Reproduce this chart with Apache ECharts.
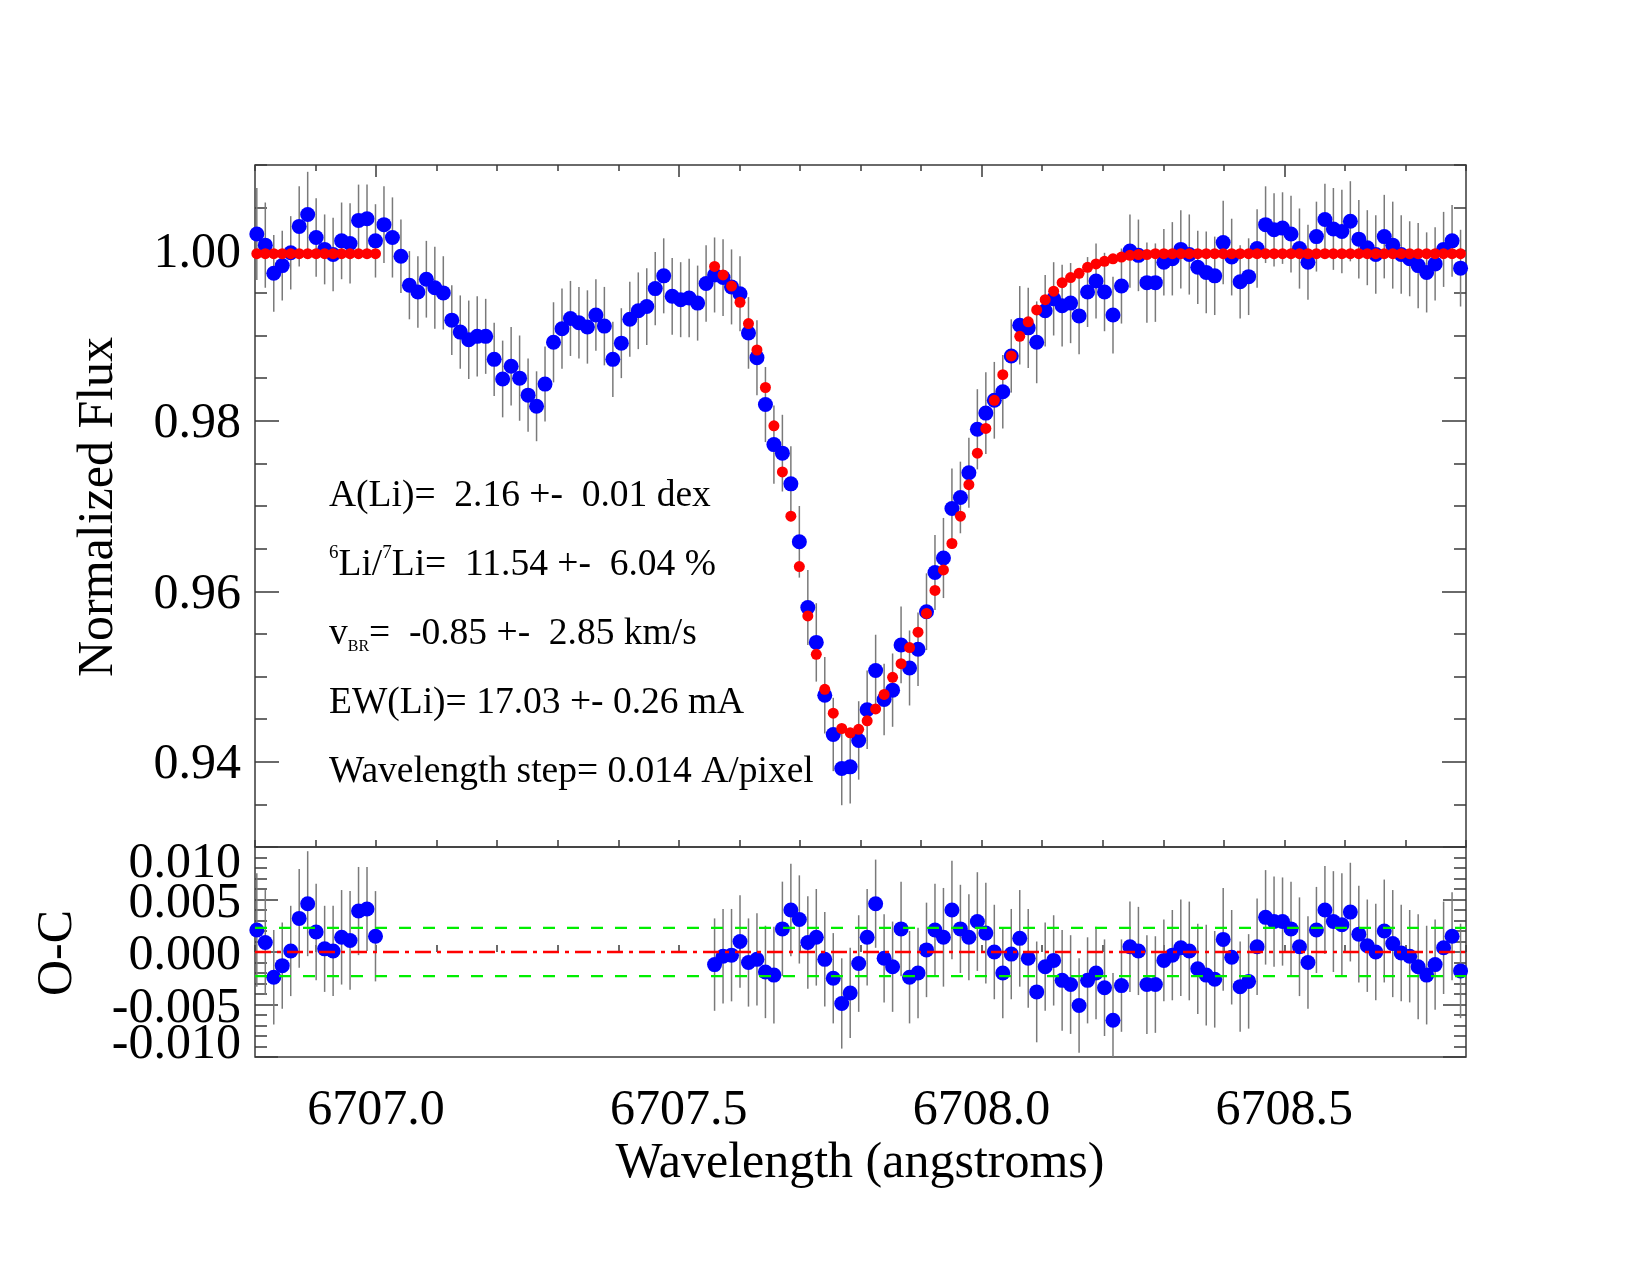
<!DOCTYPE html>
<html>
<head>
<meta charset="utf-8">
<script src="https://cdn.jsdelivr.net/npm/echarts@6/dist/echarts.min.js"></script>
<style>
  html, body { margin: 0; padding: 0; background: #fff; }
  #chart { width: 1650px; height: 1275px; }
</style>
</head>
<body>
<div id="chart"></div>
<script>
// wavelength grid of the spectrum ("Wavelength step= 0.014 A/pixel")
const WAVE_START = 6706.803
const WAVE_STEP = 0.014

// observed normalized flux, one value per pixel
const flux = [
  1.0019, 1.0006, 0.9973, 0.9982, 0.9997, 1.0028, 1.0042, 1.0015, 1.0001, 0.9995,
  1.0011, 1.0008, 1.0035, 1.0037, 1.0011, 1.0030, 1.0015, 0.9993, 0.9959, 0.9951,
  0.9966, 0.9956, 0.9950, 0.9918, 0.9904, 0.9895, 0.9899, 0.9899, 0.9872, 0.9849,
  0.9864, 0.9850, 0.9830, 0.9817, 0.9843, 0.9892, 0.9908, 0.9920, 0.9915, 0.9910,
  0.9924, 0.9911, 0.9872, 0.9891, 0.9919, 0.9929, 0.9934, 0.9955, 0.9970, 0.9946,
  0.9942, 0.9944, 0.9938, 0.9961, 0.9971, 0.9968, 0.9957, 0.9949, 0.9903, 0.9874,
  0.9819, 0.9772, 0.9762, 0.9726, 0.9658, 0.9581, 0.9540, 0.9478, 0.9432, 0.9392,
  0.9394, 0.9425, 0.9461, 0.9507, 0.9473, 0.9484, 0.9537, 0.9510, 0.9532, 0.9576,
  0.9622, 0.9639, 0.9697, 0.9710, 0.9739, 0.9790, 0.9809, 0.9824, 0.9834, 0.9876,
  0.9912, 0.9909, 0.9892, 0.9929, 0.9943, 0.9935, 0.9938, 0.9923, 0.9951, 0.9964,
  0.9951, 0.9924, 0.9958, 0.9999, 0.9994, 0.9962, 0.9962, 0.9986, 0.9990, 1.0001,
  0.9995, 0.9980, 0.9974, 0.9970, 1.0009, 0.9992, 0.9963, 0.9969, 1.0002, 1.0030,
  1.0024, 1.0026, 1.0019, 1.0002, 0.9986, 1.0016, 1.0036, 1.0025, 1.0022, 1.0034,
  1.0013, 1.0003, 0.9995, 1.0016, 1.0006, 0.9995, 0.9990, 0.9982, 0.9974, 0.9984,
  1.0001, 1.0011, 0.9979,
]

// 1-sigma flux errors
const fluxErr = [
  0.0054, 0.0050, 0.0045, 0.0041, 0.0043, 0.0047, 0.0050, 0.0046, 0.0041, 0.0043,
  0.0045, 0.0047, 0.0042, 0.0040, 0.0043, 0.0045, 0.0047, 0.0043, 0.0040, 0.0042,
  0.0045, 0.0048, 0.0043, 0.0041, 0.0043, 0.0046, 0.0047, 0.0044, 0.0043, 0.0045,
  0.0046, 0.0050, 0.0043, 0.0041, 0.0044, 0.0047, 0.0047, 0.0044, 0.0042, 0.0043,
  0.0042, 0.0046, 0.0044, 0.0041, 0.0044, 0.0045, 0.0045, 0.0043, 0.0044, 0.0045,
  0.0044, 0.0046, 0.0044, 0.0045, 0.0044, 0.0045, 0.0044, 0.0044, 0.0042, 0.0044,
  0.0044, 0.0046, 0.0045, 0.0044, 0.0042, 0.0044, 0.0046, 0.0045, 0.0043, 0.0043,
  0.0043, 0.0046, 0.0046, 0.0042, 0.0042, 0.0043, 0.0045, 0.0044, 0.0043, 0.0045,
  0.0044, 0.0047, 0.0047, 0.0042, 0.0041, 0.0047, 0.0048, 0.0045, 0.0043, 0.0043,
  0.0046, 0.0047, 0.0048, 0.0042, 0.0043, 0.0048, 0.0047, 0.0045, 0.0041, 0.0044,
  0.0046, 0.0045, 0.0044, 0.0043, 0.0042, 0.0047, 0.0046, 0.0039, 0.0043, 0.0046,
  0.0047, 0.0043, 0.0048, 0.0046, 0.0049, 0.0045, 0.0043, 0.0045, 0.0046, 0.0045,
  0.0043, 0.0042, 0.0045, 0.0047, 0.0044, 0.0041, 0.0042, 0.0048, 0.0049, 0.0047,
  0.0046, 0.0044, 0.0046, 0.0049, 0.0051, 0.0046, 0.0044, 0.0050, 0.0047, 0.0043,
  0.0044, 0.0042, 0.0045,
]

// fitted synthetic spectrum, only on the two fit windows
const FIT_LEFT_START = 0
const modelLeft = [
  0.9996, 0.9996, 0.9996, 0.9996, 0.9996, 0.9996, 0.9996, 0.9996, 0.9996, 0.9996,
  0.9996, 0.9996, 0.9996, 0.9996, 0.9996,
]
const FIT_RIGHT_START = 54
const modelRight = [
  0.9981, 0.9971, 0.9958, 0.9939, 0.9914, 0.9883, 0.9839, 0.9794, 0.9740, 0.9688,
  0.9629, 0.9571, 0.9526, 0.9485, 0.9457, 0.9439, 0.9434, 0.9438, 0.9448, 0.9462,
  0.9479, 0.9499, 0.9515, 0.9534, 0.9552, 0.9574, 0.9601, 0.9625, 0.9656, 0.9688,
  0.9725, 0.9762, 0.9791, 0.9824, 0.9854, 0.9876, 0.9899, 0.9916, 0.9930, 0.9942,
  0.9952, 0.9962, 0.9968, 0.9973, 0.9980, 0.9984, 0.9987, 0.9990, 0.9992, 0.9994,
  0.9995, 0.9995, 0.9996, 0.9996, 0.9996, 0.9996, 0.9996, 0.9996, 0.9996, 0.9996,
  0.9996, 0.9996, 0.9996, 0.9996, 0.9996, 0.9996, 0.9996, 0.9996, 0.9996, 0.9996,
  0.9996, 0.9996, 0.9996, 0.9996, 0.9996, 0.9996, 0.9996, 0.9996, 0.9996, 0.9996,
  0.9996, 0.9996, 0.9996, 0.9996, 0.9996, 0.9996, 0.9996, 0.9996, 0.9996,
]

// observed minus computed on the same fit windows
const residLeft = [
  0.0021, 0.0009, -0.0024, -0.0013, 0.0001, 0.0032, 0.0046, 0.0019, 0.0003, 0.0001,
  0.0014, 0.0011, 0.0039, 0.0041, 0.0015,
]
const residRight = [
  -0.0012, -0.0004, -0.0003, 0.0010, -0.0010, -0.0007, -0.0019, -0.0022, 0.0022, 0.0040,
  0.0031, 0.0009, 0.0014, -0.0007, -0.0025, -0.0049, -0.0039, -0.0011, 0.0014, 0.0046,
  -0.0006, -0.0014, 0.0022, -0.0024, -0.0020, 0.0002, 0.0021, 0.0014, 0.0040, 0.0022,
  0.0014, 0.0029, 0.0018, 0.0000, -0.0020, -0.0002, 0.0013, -0.0006, -0.0038, -0.0014,
  -0.0008, -0.0027, -0.0031, -0.0051, -0.0027, -0.0020, -0.0034, -0.0065, -0.0032, 0.0005,
  0.0001, -0.0031, -0.0031, -0.0008, -0.0003, 0.0004, 0.0001, -0.0016, -0.0022, -0.0026,
  0.0012, -0.0005, -0.0033, -0.0028, 0.0005, 0.0033, 0.0029, 0.0029, 0.0022, 0.0005,
  -0.0010, 0.0021, 0.0040, 0.0029, 0.0026, 0.0038, 0.0017, 0.0006, 0.0000, 0.0020,
  0.0008, -0.0001, -0.0004, -0.0014, -0.0022, -0.0012, 0.0004, 0.0015, -0.0018,
]
const OC_SIGMA = 0.0023

const X_MIN = 6706.8
const X_MAX = 6708.8
const X_LABELS = [6707.0, 6707.5, 6708.0, 6708.5]
const FLUX_LABELS = [0.94, 0.96, 0.98, 1.00]
const OC_INNER_LABELS = [-0.005, 0.000, 0.005]

const annotations = [
  '{t|A(Li)=  2.16 +-  0.01 dex}',
  '{s|6}{t|Li/}{s|7}{t|Li=  11.54 +-  6.04 %}',
  '{t|v}{b|BR}{t|=  -0.85 +-  2.85 km/s}',
  '{t|EW(Li)= 17.03 +- 0.26 mA}',
  '{t|Wavelength step= 0.014 A/pixel}',
]

const FONT = '"Liberation Serif", "Times New Roman", serif'
const AXIS_COLOR = '#3a3a3a'
const BAR_COLOR = '#7a7a7a'

const wave = i => +(WAVE_START + i * WAVE_STEP).toFixed(4)

const fluxPts = flux.map((f, i) => [wave(i), f, fluxErr[i]])
const modelPts = [
  ...modelLeft.map((m, k) => [wave(FIT_LEFT_START + k), m]),
  ...modelRight.map((m, k) => [wave(FIT_RIGHT_START + k), m]),
]
const residPts = [
  ...residLeft.map((r, k) => [wave(FIT_LEFT_START + k), r, fluxErr[FIT_LEFT_START + k]]),
  ...residRight.map((r, k) => [wave(FIT_RIGHT_START + k), r, fluxErr[FIT_RIGHT_START + k]]),
]

function errorBar(params, api) {
  const x = api.value(0), y = api.value(1), e = api.value(2)
  const hi = api.coord([x, y + e])
  const lo = api.coord([x, y - e])
  const cs = params.coordSys
  return {
    type: 'line',
    shape: { x1: hi[0], y1: Math.max(hi[1], cs.y), x2: lo[0], y2: Math.min(lo[1], cs.y + cs.height) },
    style: { stroke: BAR_COLOR, lineWidth: 1.5 },
    silent: true,
  }
}

const tick = (length, extra) => Object.assign({
  show: true, inside: true, length, lineStyle: { color: AXIS_COLOR, width: 1.5 },
}, extra)

function xAx(gridIndex, position, axisTick, axisLabel) {
  return {
    type: 'value', gridIndex, position, min: X_MIN, max: X_MAX, interval: 0.1,
    axisLine: { show: false }, splitLine: { show: false },
    axisTick, axisLabel: axisLabel ?? { show: false },
  }
}

function yAx(gridIndex, position, min, max, interval, axisTick, axisLabel) {
  return {
    type: 'value', gridIndex, position, min, max, interval,
    axisLine: { show: false }, splitLine: { show: false },
    axisTick, axisLabel: axisLabel ?? { show: false },
  }
}

const labelStyle = { color: '#000', fontFamily: FONT, fontSize: 50 }

const chart = echarts.init(document.getElementById('chart'))
chart.setOption({
  backgroundColor: '#fff',
  animation: false,
  grid: [
    { left: 255, top: 165, width: 1211, height: 682, show: true, borderColor: AXIS_COLOR, borderWidth: 1.5 },
    { left: 255, top: 847, width: 1211, height: 210, show: true, borderColor: AXIS_COLOR, borderWidth: 1.5 },
  ],
  xAxis: [
    xAx(0, 'bottom', tick(7)),
    xAx(0, 'top', tick(6)),
    xAx(0, 'top', tick(12, { customValues: X_LABELS })),
    xAx(1, 'bottom', tick(7), Object.assign({
      show: true, margin: 29, customValues: X_LABELS, formatter: v => v.toFixed(1),
    }, labelStyle)),
  ],
  yAxis: [
    // top panel: labels + minor ticks, then major ticks, mirrored on the right
    yAx(0, 'left', 0.93, 1.01, 0.005, tick(12), Object.assign({
      show: true, margin: 14, verticalAlign: 'top', lineHeight: 7,
      customValues: FLUX_LABELS, formatter: v => v.toFixed(2),
    }, labelStyle)),
    yAx(0, 'left', 0.93, 1.01, 0.005, tick(24, { customValues: FLUX_LABELS })),
    yAx(0, 'right', 0.93, 1.01, 0.005, tick(12)),
    yAx(0, 'right', 0.93, 1.01, 0.005, tick(24, { customValues: FLUX_LABELS })),
    // residual panel: inner labels + major ticks
    yAx(1, 'left', -0.01, 0.01, 0.005, tick(23), Object.assign({
      show: true, margin: 14, verticalAlign: 'top', lineHeight: 8,
      customValues: OC_INNER_LABELS,
      formatter: v => (Math.abs(v) < 1e-9 ? 0 : v).toFixed(3),
    }, labelStyle)),
    yAx(1, 'left', -0.01, 0.01, 0.001, tick(12)),
    yAx(1, 'right', -0.01, 0.01, 0.005, tick(23)),
    yAx(1, 'right', -0.01, 0.01, 0.001, tick(12)),
    // residual panel: edge labels, kept inside the frame
    yAx(1, 'left', -0.01, 0.01, 0.02, { show: false }, Object.assign({
      show: true, margin: 14, showMinLabel: true, showMaxLabel: true,
      verticalAlignMinLabel: 'bottom', verticalAlignMaxLabel: 'top',
      formatter: v => (v > 0 ? '{hi|' : '{lo|') + v.toFixed(3) + '}',
      rich: {
        hi: { fontFamily: FONT, fontSize: 50, lineHeight: 34, color: '#000' },
        lo: { fontFamily: FONT, fontSize: 50, lineHeight: 24, color: '#000' },
      },
    }, labelStyle)),
  ],
  series: [
    { type: 'custom', xAxisIndex: 0, yAxisIndex: 0, renderItem: errorBar, data: fluxPts, encode: { x: 0, y: 1 } },
    {
      type: 'scatter', xAxisIndex: 0, yAxisIndex: 0, data: fluxPts.map(p => [p[0], p[1]]),
      symbolSize: 15, itemStyle: { color: '#0000ff', opacity: 1 },
    },
    {
      type: 'scatter', xAxisIndex: 0, yAxisIndex: 0, data: modelPts,
      symbolSize: 11, itemStyle: { color: '#ff0000', opacity: 1 },
    },
    { type: 'custom', xAxisIndex: 3, yAxisIndex: 4, renderItem: errorBar, data: residPts, encode: { x: 0, y: 1 } },
    {
      type: 'scatter', xAxisIndex: 3, yAxisIndex: 4, data: residPts.map(p => [p[0], p[1]]),
      symbolSize: 15, itemStyle: { color: '#0000ff', opacity: 1 },
    },
    {
      type: 'line', xAxisIndex: 3, yAxisIndex: 4, symbol: 'none', silent: true,
      data: [[X_MIN, OC_SIGMA], [X_MAX, OC_SIGMA]],
      lineStyle: { color: '#00ee00', width: 2.2, type: [12, 12] },
    },
    {
      type: 'line', xAxisIndex: 3, yAxisIndex: 4, symbol: 'none', silent: true,
      data: [[X_MIN, -OC_SIGMA], [X_MAX, -OC_SIGMA]],
      lineStyle: { color: '#00ee00', width: 2.2, type: [12, 12] },
    },
    {
      type: 'line', xAxisIndex: 3, yAxisIndex: 4, symbol: 'none', silent: true,
      data: [[X_MIN, 0], [X_MAX, 0]],
      lineStyle: { color: '#ff0000', width: 2.5, type: [16, 6, 4, 6] },
    },
  ],
  graphic: [
    ...annotations.map((text, k) => ({
      type: 'text', x: 329, y: 496 + k * 69, z: 100,
      style: {
        text, fill: '#000', align: 'left', verticalAlign: 'middle',
        rich: {
          t: { fontFamily: FONT, fontSize: 37.5, lineHeight: 42, fill: '#000' },
          s: { fontFamily: FONT, fontSize: 19, lineHeight: 28, verticalAlign: 'top', fill: '#000' },
          b: { fontFamily: FONT, fontSize: 16, lineHeight: 20, verticalAlign: 'bottom', fill: '#000' },
        },
      },
    })),
    {
      type: 'text', x: 99, y: 507, rotation: Math.PI / 2, z: 100,
      style: { text: 'Normalized Flux', fill: '#000', font: '50px ' + FONT, align: 'center', verticalAlign: 'middle' },
    },
    {
      type: 'text', x: 58, y: 953, rotation: Math.PI / 2, z: 100,
      style: { text: 'O-C', fill: '#000', font: '50px ' + FONT, align: 'center', verticalAlign: 'middle' },
    },
    {
      type: 'text', x: 860, y: 1164, z: 100,
      style: { text: 'Wavelength (angstroms)', fill: '#000', font: '50px ' + FONT, align: 'center', verticalAlign: 'middle' },
    },
  ],
})
</script>
</body>
</html>
